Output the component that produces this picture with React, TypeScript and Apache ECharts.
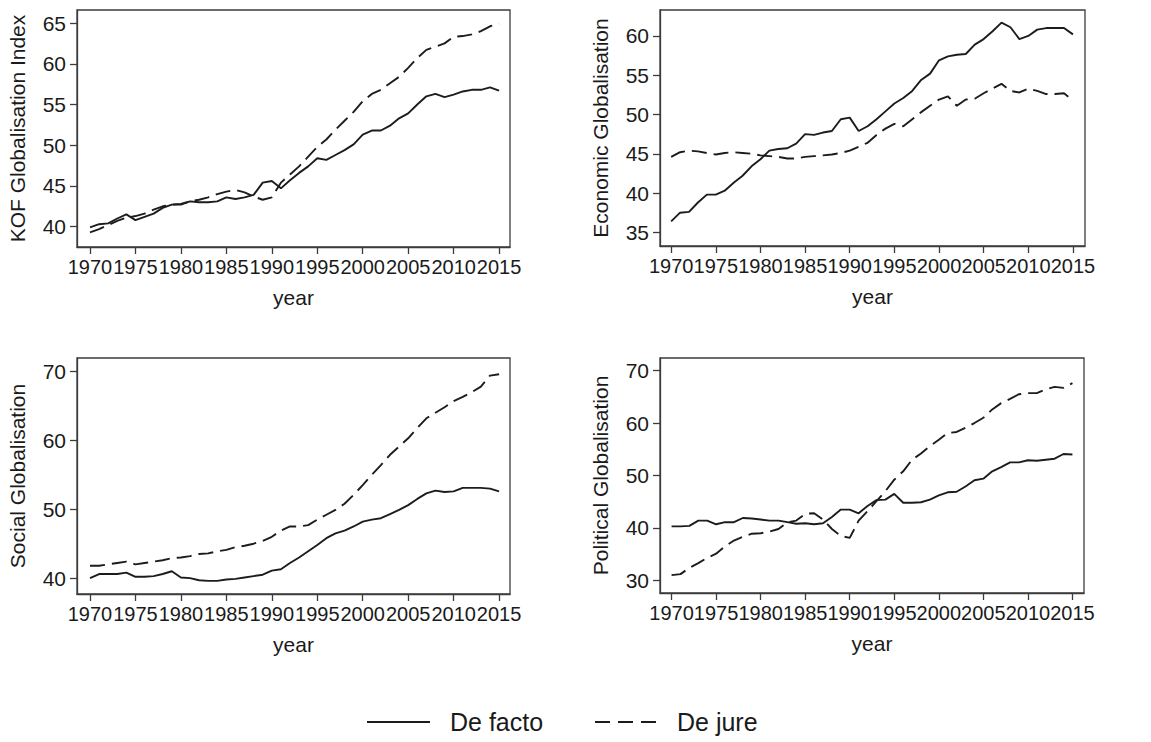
import React, { useEffect, useRef } from "react";
import * as echarts from "echarts";

const years = Array.from({ length: 46 }, (_, i) => 1970 + i);
const xTicks = [1970, 1975, 1980, 1985, 1990, 1995, 2000, 2005, 2010, 2015];

const kofFacto = [39.9, 40.3, 40.4, 41.0, 41.5, 40.8, 41.2, 41.6, 42.3, 42.7, 42.7, 43.1, 43.0, 43.0, 43.1, 43.6, 43.4, 43.6, 43.9, 45.4, 45.6, 44.7, 45.7, 46.6, 47.4, 48.4, 48.2, 48.8, 49.4, 50.1, 51.3, 51.8, 51.8, 52.4, 53.3, 53.9, 55.0, 56.0, 56.3, 55.9, 56.2, 56.6, 56.8, 56.8, 57.1, 56.7];
const kofJure = [39.3, 39.7, 40.2, 40.7, 41.1, 41.3, 41.6, 42.1, 42.5, 42.7, 42.8, 43.1, 43.3, 43.6, 44.0, 44.3, 44.5, 44.2, 43.7, 43.3, 43.6, 45.4, 46.4, 47.4, 48.6, 49.8, 50.7, 51.9, 53.0, 54.1, 55.4, 56.3, 56.8, 57.6, 58.4, 59.5, 60.7, 61.7, 62.1, 62.5, 63.3, 63.4, 63.6, 64.0, 64.6, 64.9];
const econFacto = [36.4, 37.5, 37.6, 38.8, 39.8, 39.8, 40.3, 41.3, 42.2, 43.4, 44.3, 45.4, 45.6, 45.7, 46.3, 47.5, 47.4, 47.7, 47.9, 49.4, 49.6, 47.9, 48.5, 49.4, 50.4, 51.4, 52.1, 53.0, 54.4, 55.2, 56.9, 57.4, 57.6, 57.7, 58.9, 59.6, 60.6, 61.7, 61.1, 59.6, 60.0, 60.8, 61.0, 61.0, 61.0, 60.2];
const econJure = [44.6, 45.2, 45.4, 45.3, 45.1, 44.9, 45.1, 45.2, 45.1, 45.0, 44.8, 44.7, 44.6, 44.4, 44.4, 44.6, 44.7, 44.8, 44.9, 45.1, 45.4, 45.9, 46.4, 47.4, 48.2, 48.8, 48.5, 49.4, 50.3, 51.1, 51.9, 52.3, 51.1, 51.9, 52.0, 52.7, 53.3, 53.9, 53.0, 52.8, 53.3, 53.0, 52.6, 52.6, 52.7, 51.8];
const socFacto = [40.0, 40.6, 40.6, 40.6, 40.8, 40.2, 40.2, 40.3, 40.6, 41.0, 40.1, 40.0, 39.7, 39.6, 39.6, 39.8, 39.9, 40.1, 40.3, 40.5, 41.1, 41.3, 42.2, 43.0, 43.9, 44.8, 45.8, 46.5, 46.9, 47.5, 48.2, 48.5, 48.7, 49.3, 49.9, 50.6, 51.5, 52.3, 52.7, 52.5, 52.6, 53.1, 53.1, 53.1, 53.0, 52.6];
const socJure = [41.8, 41.8, 42.0, 42.2, 42.4, 42.0, 42.2, 42.4, 42.6, 42.9, 43.0, 43.2, 43.5, 43.6, 43.9, 44.1, 44.5, 44.7, 45.0, 45.4, 46.0, 46.9, 47.5, 47.5, 47.7, 48.5, 49.2, 49.9, 50.8, 52.1, 53.5, 55.0, 56.4, 57.9, 59.1, 60.3, 61.8, 63.2, 64.0, 64.8, 65.7, 66.3, 67.0, 67.8, 69.4, 69.6];
const polFacto = [40.3, 40.3, 40.4, 41.4, 41.4, 40.7, 41.1, 41.1, 41.9, 41.8, 41.6, 41.4, 41.4, 41.1, 40.8, 40.9, 40.7, 40.9, 42.1, 43.5, 43.5, 42.8, 44.2, 45.3, 45.4, 46.5, 44.8, 44.8, 44.9, 45.4, 46.2, 46.8, 46.9, 47.9, 49.1, 49.4, 50.8, 51.6, 52.5, 52.5, 52.9, 52.8, 53.0, 53.2, 54.1, 54.0];
const polJure = [31.0, 31.2, 32.4, 33.3, 34.3, 35.1, 36.5, 37.6, 38.3, 38.9, 39.0, 39.3, 39.8, 41.1, 41.4, 42.7, 42.8, 41.6, 39.8, 38.5, 38.1, 41.4, 43.2, 45.1, 47.0, 49.2, 50.8, 53.0, 54.2, 55.6, 56.8, 58.1, 58.3, 59.1, 60.0, 61.0, 62.6, 63.8, 64.6, 65.5, 65.7, 65.7, 66.4, 66.9, 66.7, 67.6];

const kofTicks = [40, 45, 50, 55, 60, 65];
const econTicks = [35, 40, 45, 50, 55, 60];
const socTicks = [40, 50, 60, 70];
const polTicks = [30, 40, 50, 60, 70];

const panelTitles = ["KOF Globalisation Index", "Economic Globalisation", "Social Globalisation", "Political Globalisation"];
const seriesNames = ["De facto", "De jure"];

const FONT = "'Liberation Sans', Arial, sans-serif";
const TEXT = "#1a1a1a";
const FRAME = "#3c3c3c";
const LINE = "#1c1c1c";

export default function App() {
  const ref = useRef<HTMLDivElement>(null);

  useEffect(() => {
    if (!ref.current) return;
    const chart = echarts.init(ref.current, null, { renderer: "svg" });

    const grids = [
      { left: 77, top: 10, width: 433, height: 237 },
      { left: 660, top: 10, width: 425, height: 236 },
      { left: 77, top: 358, width: 433, height: 236 },
      { left: 660, top: 358, width: 424, height: 235 },
    ];
    const yRanges = [
      [37.5, 66.6],
      [33.26, 63.3],
      [37.7, 71.95],
      [27.6, 72.4],
    ];
    const xRanges = [
      [1968.57, 2016.2],
      [1968.75, 2016.35],
      [1968.57, 2016.2],
      [1968.7, 2016.3],
    ];
    const yTicks = [kofTicks, econTicks, socTicks, polTicks];
    const facto = [kofFacto, econFacto, socFacto, polFacto];
    const jure = [kofJure, econJure, socJure, polJure];

    const lineAxis = { show: true, onZero: false, lineStyle: { color: FRAME, width: 1.3 } };

    const xAxis = grids.map((_, i) => ({
      type: "value",
      gridIndex: i,
      min: xRanges[i][0],
      max: xRanges[i][1],
      name: "year",
      nameLocation: "middle",
      nameGap: 40,
      nameTextStyle: { fontFamily: FONT, fontSize: 21, color: TEXT },
      axisLine: lineAxis,
      axisTick: { show: true, inside: false, length: 7, lineStyle: { color: FRAME, width: 1.3 }, customValues: xTicks },
      axisLabel: { show: true, margin: 10, fontFamily: FONT, fontSize: 20, color: TEXT, customValues: xTicks, hideOverlap: false, showMinLabel: true, showMaxLabel: true, formatter: (v: number) => String(Math.round(v)) },
      splitLine: { show: false },
    }));

    const yAxis = grids.map((_, i) => ({
      type: "value",
      gridIndex: i,
      min: yRanges[i][0],
      max: yRanges[i][1],
      name: panelTitles[i],
      nameLocation: "middle",
      nameRotate: 90,
      nameGap: 49,
      nameTextStyle: { fontFamily: FONT, fontSize: 21, color: TEXT },
      axisLine: lineAxis,
      axisTick: { show: true, inside: false, length: 7, lineStyle: { color: FRAME, width: 1.3 }, customValues: yTicks[i] },
      axisLabel: { show: true, margin: 11, fontFamily: FONT, fontSize: 21, color: TEXT, customValues: yTicks[i], showMinLabel: true, showMaxLabel: true, formatter: (v: number) => String(Math.round(v)) },
      splitLine: { show: false },
    }));

    const series: any[] = [];
    grids.forEach((_, i) => {
      series.push({
        type: "line",
        name: seriesNames[0],
        xAxisIndex: i,
        yAxisIndex: i,
        data: years.map((y, k) => [y, facto[i][k]]),
        symbol: "none",
        lineStyle: { color: LINE, width: 1.9, type: "solid" },
        itemStyle: { color: LINE },
      });
      series.push({
        type: "line",
        name: seriesNames[1],
        xAxisIndex: i,
        yAxisIndex: i,
        data: years.map((y, k) => [y, jure[i][k]]),
        symbol: "none",
        lineStyle: { color: LINE, width: 1.9, type: [15, 7] },
        itemStyle: { color: LINE },
      });
    });

    const legendY = 722;
    const graphic = [
      { type: "line", shape: { x1: 367, y1: legendY, x2: 430, y2: legendY }, style: { stroke: LINE, lineWidth: 2 } },
      { type: "text", x: 450, y: legendY, style: { text: seriesNames[0], font: `25px ${FONT}`, fill: TEXT, verticalAlign: "middle", align: "left" } },
      { type: "line", shape: { x1: 595, y1: legendY, x2: 658, y2: legendY }, style: { stroke: LINE, lineWidth: 2, lineDash: [15, 8] } },
      { type: "text", x: 677, y: legendY, style: { text: seriesNames[1], font: `25px ${FONT}`, fill: TEXT, verticalAlign: "middle", align: "left" } },
    ];

    chart.setOption({
      animation: false,
      backgroundColor: "#ffffff",
      grid: grids.map((g) => ({ ...g, show: true, borderColor: FRAME, borderWidth: 1.3, backgroundColor: "transparent", containLabel: false })),
      xAxis,
      yAxis,
      series,
      graphic,
    });

    return () => chart.dispose();
  }, []);

  return (
    <div
      ref={ref}
      style={{ position: "absolute", left: 0, top: 0, width: 1151, height: 742, background: "#fff" }}
    />
  );
}
